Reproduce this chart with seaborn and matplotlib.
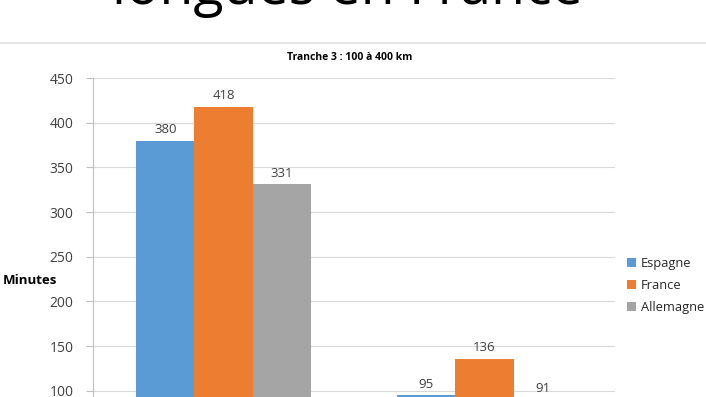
import matplotlib
matplotlib.use("Agg")
import matplotlib.pyplot as plt
import seaborn as sns
import pandas as pd
from matplotlib.patches import Patch

categories = ["Catégorie 1", "Catégorie 2"]
countries = ["Espagne", "France", "Allemagne"]
espagne = [380, 95]
france = [418, 136]
allemagne = [331, 91]
colors = ["#5B9BD5", "#ED7D31", "#A5A5A5"]
yticks = [100, 150, 200, 250, 300, 350, 400, 450]

rows = []
for c, vals in zip(countries, [espagne, france, allemagne]):
    for cat, v in zip(categories, vals):
        rows.append({"cat": cat, "pays": c, "minutes": v})
df = pd.DataFrame(rows)

sns.set_theme(style="white")
plt.rcParams["font.family"] = ["Open Sans", "DejaVu Sans"]

fig = plt.figure(figsize=(7.06, 3.97), dpi=100)
ax = fig.add_axes([93/706, 1 - 480/397, 522/706, 402/397])

sns.barplot(data=df, x="cat", y="minutes", hue="pays", hue_order=countries,
            palette=colors, width=0.667, gap=0, saturation=1, ax=ax,
            legend=False, errorbar=None, linewidth=0, edgecolor="none")

for cont in ax.containers:
    ax.bar_label(cont, padding=3, fontsize=9.5, color="#404040")

ax.set_ylim(0, 450)
ax.set_xlim(-0.5, 1.5)
ax.set_yticks(yticks)
ax.set_yticklabels([str(t) for t in yticks], fontsize=10, color="#404040")
ax.tick_params(axis="y", length=5, color="#BFBFBF", width=0.8, pad=9, left=True)
ax.yaxis.grid(True, color="#D9D9D9", linewidth=0.8)
ax.set_axisbelow(True)
for s in ["top", "right", "bottom"]:
    ax.spines[s].set_visible(False)
ax.spines["left"].set_color("#BFBFBF")
ax.spines["left"].set_linewidth(0.8)
ax.set_xlabel("")
ax.set_ylabel("")
ax.set_xticks([])

fig.text(3/706, 1 - 281/397, "Minutes", fontsize=9.5, fontweight="bold",
         ha="left", va="center", color="#000000")

fig.text(350/706, 1 - 57/397, "Tranche 3 : 100 à 400 km", fontsize=7.5,
         fontweight="bold", ha="center", va="center", color="#000000")

fig.text(347/706, 1 - 3.5/397, "longues en France", fontsize=40,
         ha="center", va="baseline", color="#000000")

fig.add_artist(plt.Line2D([0, 1], [1 - 43/397, 1 - 43/397],
                          color="#E0E0E0", linewidth=1.3,
                          transform=fig.transFigure))

handles = [Patch(facecolor=c, edgecolor="none", label=l) for c, l in zip(colors, countries)]
fig.legend(handles=handles, loc="upper left", bbox_to_anchor=(627/706, 1 - 257/397),
           frameon=False, fontsize=9.3, handlelength=0.7, handleheight=0.7,
           handletextpad=0.4, labelspacing=0.7, borderaxespad=0, borderpad=0)

fig.savefig("out.png", dpi=100)
